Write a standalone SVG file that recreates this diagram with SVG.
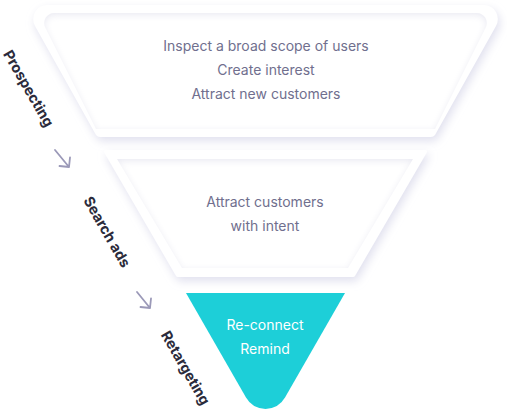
<svg xmlns="http://www.w3.org/2000/svg" width="507" height="410" viewBox="0 0 507 410">
  <defs>
    <filter id="outerShadow" x="-10%" y="-15%" width="120%" height="135%">
      <feGaussianBlur in="SourceAlpha" stdDeviation="5"/>
      <feOffset dx="2" dy="4" result="b"/>
      <feFlood flood-color="#dcdcec" flood-opacity="0.9"/>
      <feComposite in2="b" operator="in" result="s"/>
      <feMerge><feMergeNode in="s"/><feMergeNode in="SourceGraphic"/></feMerge>
    </filter>
    <filter id="inset" x="-5%" y="-10%" width="110%" height="120%">
      <feFlood flood-color="#e9e9f2"/>
      <feComposite in2="SourceAlpha" operator="out"/>
      <feGaussianBlur stdDeviation="3.5"/>
      <feOffset dy="2"/>
      <feComposite in2="SourceAlpha" operator="in" result="sh"/>
      <feComposite in="sh" in2="SourceGraphic" operator="over"/>
    </filter>
  </defs>
  <style>
    .outer { fill: #ffffff; filter: url(#outerShadow); }
    .inner { fill: #ffffff; filter: url(#inset); }
    .body { font-family: Inter, "Liberation Sans", sans-serif; font-size: 14px; fill: #706f8e; text-anchor: middle; }
    .light { font-family: Inter, "Liberation Sans", sans-serif; font-size: 14px; fill: #ffffff; text-anchor: middle; }
    .label { font-family: Inter, "Liberation Sans", sans-serif; font-size: 14.5px; font-weight: 700; fill: #2b2b3b; text-anchor: middle; }
    .arrow { fill: none; stroke: #9b99b8; stroke-width: 1.8; stroke-linecap: round; stroke-linejoin: round; }
  </style>
  <rect width="507" height="410" fill="#ffffff"/>

  <g id="stage-prospecting">
    <path class="outer" d="M47.2,5 L483.8,5 A14,14 0 0 1 496,25.9 L435,135 Q433.4,137 431,137 L100,137 Q97.6,137 96,135 L35,25.9 A14,14 0 0 1 47.2,5 Z"/>
    <path class="inner" d="M54,13 L477,13 A10,10 0 0 1 485.5,28 L435,129 L96,129 L45.5,28 A10,10 0 0 1 54,13 Z"/>
    <text class="body" x="266" y="51">Inspect a broad scope of users</text>
    <text class="body" x="266" y="75">Create interest</text>
    <text class="body" x="266" y="99">Attract new customers</text>
  </g>

  <g id="stage-search">
    <path class="outer" d="M106,150 L425,150 Q428,150 426.5,153 L355,276 Q354.4,277 353,277 L178,277 Q176.6,277 176,276 L104.5,153 Q103,150 106,150 Z"/>
    <path class="inner" d="M117,159 L413,159 L348,268 L182,268 Z"/>
    <text class="body" x="265" y="207">Attract customers</text>
    <text class="body" x="265" y="231">with intent</text>
  </g>

  <g id="stage-retargeting">
    <path d="M186,293 L345,293 L285,397.6 A22.5,22.5 0 0 1 246,397.6 Z" fill="#1dcfd8"/>
    <text class="light" x="265" y="330">Re-connect</text>
    <text class="light" x="265" y="354">Remind</text>
  </g>

  <g id="label-prospecting">
    <text class="label" transform="translate(28.5,88.5) rotate(60)" y="5">Prospecting</text>
  </g>
  <g id="label-search">
    <text class="label" transform="translate(107,232) rotate(60)" y="5">Search ads</text>
  </g>
  <g id="label-retargeting">
    <text class="label" transform="translate(185.5,368) rotate(60)" y="5">Retargeting</text>
  </g>

  <g id="connectors">
    <path class="arrow" d="M55,150 L69,167 M59.5,166 L69,167 L70,157.5"/>
    <path class="arrow" d="M137,292 L150,308 M140.5,307 L150,308 L151,298.5"/>
  </g>
</svg>
